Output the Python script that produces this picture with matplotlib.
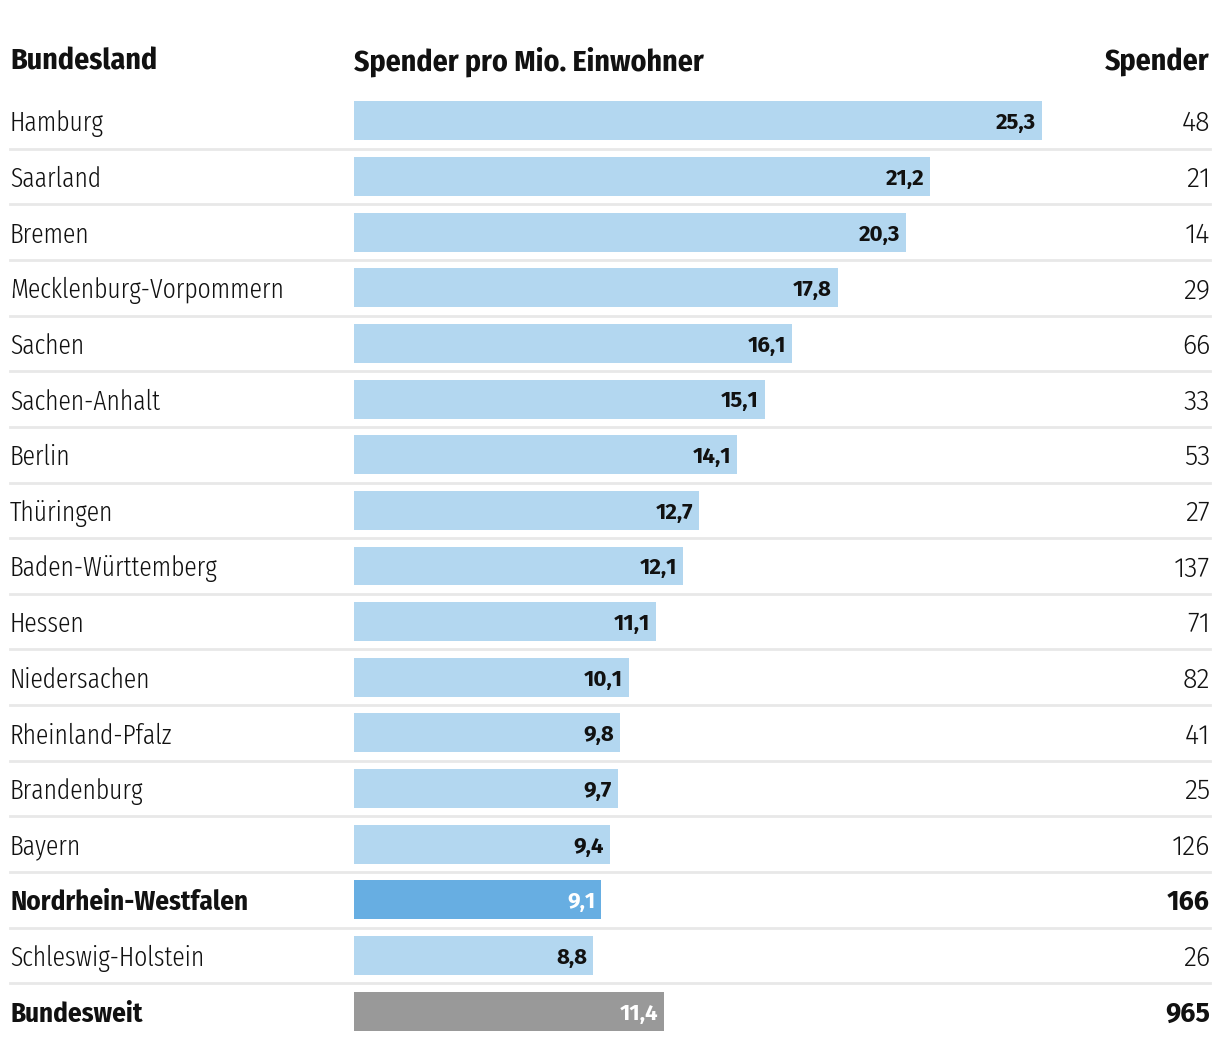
import matplotlib
matplotlib.use('Agg')
import matplotlib.pyplot as plt
import matplotlib.transforms as mtransforms

names = ['Hamburg', 'Saarland', 'Bremen', 'Mecklenburg-Vorpommern', 'Sachen',
         'Sachen-Anhalt', 'Berlin', 'Thüringen', 'Baden-Württemberg', 'Hessen',
         'Niedersachen', 'Rheinland-Pfalz', 'Brandenburg', 'Bayern',
         'Nordrhein-Westfalen', 'Schleswig-Holstein', 'Bundesweit']
per_million = [25.3, 21.2, 20.3, 17.8, 16.1, 15.1, 14.1, 12.7, 12.1, 11.1,
               10.1, 9.8, 9.7, 9.4, 9.1, 8.8, 11.4]
donors = [48, 21, 14, 29, 66, 33, 53, 27, 137, 71, 82, 41, 25, 126, 166, 26, 965]
highlight = 'Nordrhein-Westfalen'
total = 'Bundesweit'

plt.rcParams['font.family'] = ['Fira Sans Condensed', 'DejaVu Sans']
name_font = ['Fira Sans Extra Condensed', 'Fira Sans Condensed', 'DejaVu Sans']
num_font = ['Fira Sans', 'DejaVu Sans']

W, H = 1220, 1050
fig = plt.figure(figsize=(W / 100, H / 100), dpi=100)

# bar axes: x from 354px, rows centred at 121..1011 px
top_px, bot_px = 93, 1039
ax = fig.add_axes([354 / W, 1 - bot_px / H, (1210 - 354) / W, (bot_px - top_px) / H])
n = len(names)
ax.set_xlim(0, (1210 - 354) / 27.19)
ax.set_ylim(n - 0.5, -0.5)
ax.axis('off')

light = '#b3d7f0'
strong = '#67aee2'
grey = '#999999'
colors = []
for name in names:
    if name == highlight:
        colors.append(strong)
    elif name == total:
        colors.append(grey)
    else:
        colors.append(light)

ax.barh(range(n), per_million, height=0.70, color=colors, zorder=2)

fx = mtransforms.blended_transform_factory(fig.transFigure, ax.transData)
bar_off = mtransforms.offset_copy(ax.transData, fig=fig, x=-6, y=0, units='dots')

for i, (name, v, d) in enumerate(zip(names, per_million, donors)):
    special = name in (highlight, total)
    if special:
        ax.text(10 / W, i, name, transform=fx, ha='left', va='center_baseline',
                fontsize=19.5, color='#111111', fontweight='bold')
    else:
        ax.text(10 / W, i, name, transform=fx, ha='left', va='center_baseline',
                fontsize=20, color='#111111', fontweight=300, family=name_font)
    ax.text(1210 / W, i, str(d), transform=fx, ha='right', va='center_baseline',
            fontsize=19.5, color='#111111', fontweight='bold' if special else 300,
            family=num_font)
    ax.text(v, i, f'{v:.1f}'.replace('.', ','), transform=bar_off, ha='right',
            va='center_baseline', fontsize=16, fontweight='bold', family=num_font,
            color='white' if special else '#111111', zorder=3)
    if i < n - 1:
        ax.plot([10 / W, 1210 / W], [i + 0.5, i + 0.5], transform=fx,
                color='#e8e8e8', lw=2, clip_on=False, zorder=1)

hy = 1 - 59 / H
fig.text(10 / W, hy, 'Bundesland', ha='left', va='center_baseline', fontsize=21.5,
         fontweight='bold', color='#111111')
fig.text(354 / W, hy, 'Spender pro Mio. Einwohner', ha='left', va='center_baseline',
         fontsize=21.5, fontweight='bold', color='#111111')
fig.text(1210 / W, hy, 'Spender', ha='right', va='center_baseline', fontsize=21.5,
         fontweight='bold', color='#111111')

fig.savefig('out.png', dpi=100, facecolor='white')
